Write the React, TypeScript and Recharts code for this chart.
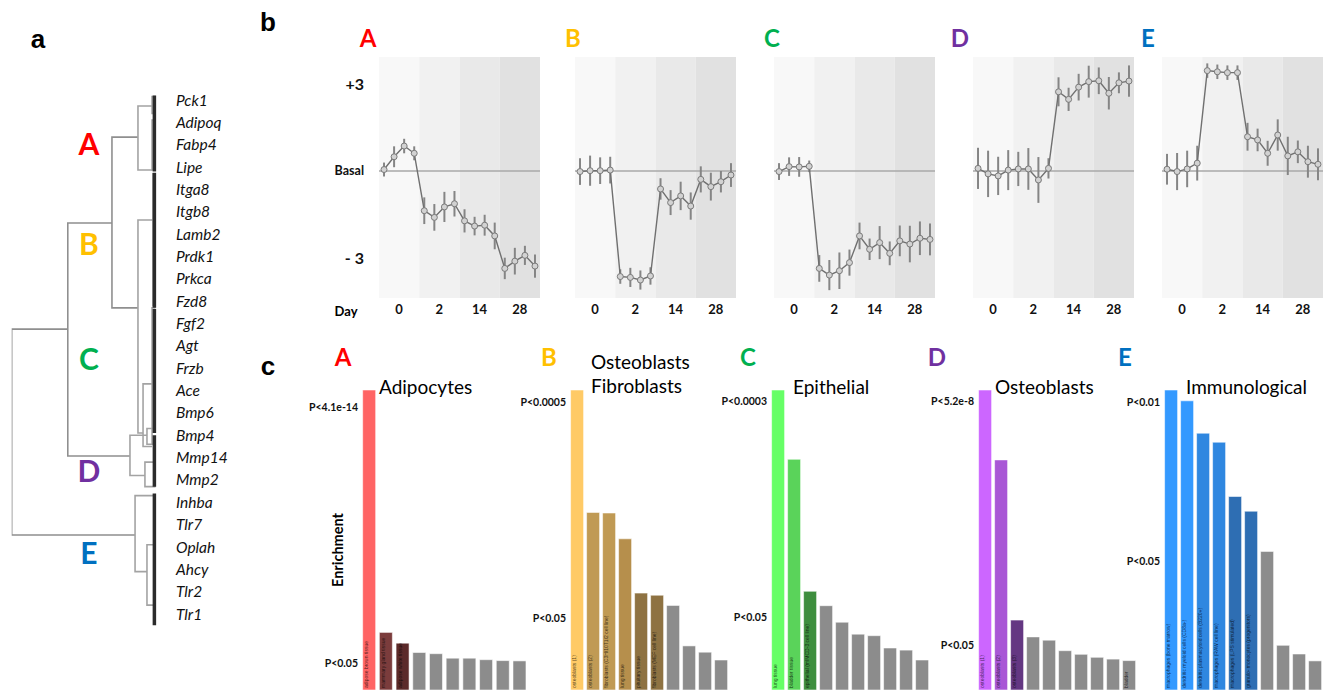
import React from "react";
import {
  ComposedChart,
  LineChart,
  BarChart,
  Line,
  Bar,
  Cell,
  XAxis,
  YAxis,
  ReferenceArea,
  ReferenceLine,
  ErrorBar,
  LabelList,
} from "recharts";

const FONT = "Lato, 'Open Sans', sans-serif";

const clusterNames = ["A", "B", "C", "D", "E"];
const clusterColors = ["#ff0000", "#ffc000", "#00b050", "#7030a0", "#0070c0"];

// ---- a: dendrogram ----
const genes = [
  "Pck1", "Adipoq", "Fabp4", "Lipe", "Itga8", "Itgb8", "Lamb2", "Prdk1",
  "Prkca", "Fzd8", "Fgf2", "Agt", "Frzb", "Ace", "Bmp6", "Bmp4",
  "Mmp14", "Mmp2", "Inhba", "Tlr7", "Oplah", "Ahcy", "Tlr2", "Tlr1",
];
// one U-shaped link per merge (like scipy icoord/dcoord): rows of both branches,
// merge distance and distance of each child
const linkTopRow = [10.25, 5.5, 1.66, 0.27, 5.37, 15.0, 17.7, -0.15, 0.9, 3.3, 9.3, 12.7, 14.7, 16.2, 19.9];
const linkBottomRow = [19.46, 15.93, 9.3, 3.13, 14.9, 16.8, 21.1, 0.6, 3.13, 9.2, 15.4, 15.5, 15.4, 17.3, 22.6];
const linkHeight = [1.0, 0.614, 0.31, 0.131, 0.131, 0.186, 0.151, 0.034, 0.034, 0.028, 0.034, 0.096, 0.069, 0.083, 0.069];
const linkTopChild = [0.614, 0.31, 0.131, 0.034, 0.028, 0.069, 0.014, 0.01, 0.01, 0.01, 0.01, 0.034, 0.01, 0.01, 0.01];
const linkBottomChild = [0.151, 0.186, 0.131, 0.034, 0.096, 0.083, 0.069, 0.01, 0.01, 0.01, 0.01, 0.034, 0.01, 0.01, 0.01];
// dense leaf blocks (hundreds of genes)
const leafBlockTop = [-0.2, 3.25, 9.35, 15.0, 17.6];
const leafBlockBottom = [3.2, 9.3, 14.9, 17.3, 23.5];

// ---- b: expression profiles (4 replicates per day) ----
const dayLabels = ["0", "2", "14", "28"];
const yTickValues = [3, 0, -3];
const yTickLabels = ["+3", "Basal", "- 3"];

const profileA = [0.05, 0.49, 0.86, 0.61, -1.37, -1.6, -1.24, -1.13, -1.72, -1.9, -1.87, -2.24, -3.36, -3.11, -2.91, -3.28];
const errA = [0.24, 0.36, 0.25, 0.24, 0.46, 0.46, 0.52, 0.44, 0.4, 0.32, 0.36, 0.46, 0.37, 0.46, 0.33, 0.4];
const profileB = [-0.02, 0.01, 0.01, 0.03, -3.64, -3.67, -3.76, -3.62, -0.62, -1.09, -0.86, -1.21, -0.29, -0.54, -0.37, -0.14];
const errB = [0.46, 0.52, 0.46, 0.46, 0.25, 0.33, 0.33, 0.3, 0.37, 0.43, 0.49, 0.47, 0.45, 0.48, 0.37, 0.41];
const profileC = [-0.02, 0.15, 0.14, 0.16, -3.36, -3.59, -3.44, -3.16, -2.24, -2.7, -2.47, -2.84, -2.41, -2.52, -2.32, -2.36];
const errC = [0.29, 0.32, 0.34, 0.2, 0.46, 0.52, 0.63, 0.45, 0.46, 0.37, 0.57, 0.41, 0.53, 0.63, 0.58, 0.55];
const profileD = [0.09, -0.1, -0.17, 0.03, 0.07, 0.07, -0.31, 0.09, 2.73, 2.47, 2.89, 3.08, 3.11, 2.68, 3.04, 3.1];
const errD = [0.71, 0.8, 0.66, 0.69, 0.59, 0.72, 0.79, 0.35, 0.5, 0.4, 0.46, 0.55, 0.46, 0.56, 0.36, 0.54];
const profileE = [0.06, -0.02, 0.07, 0.27, 3.46, 3.42, 3.39, 3.39, 1.18, 1.07, 0.61, 1.24, 0.52, 0.66, 0.32, 0.23];
const errE = [0.53, 0.64, 0.63, 0.6, 0.25, 0.25, 0.25, 0.25, 0.48, 0.39, 0.43, 0.54, 0.66, 0.39, 0.55, 0.55];

const profiles = [profileA, profileB, profileC, profileD, profileE];
const profileErrs = [errA, errB, errC, errD, errE];

// ---- c: tissue enrichment ----
const enrA = [100, 19.2, 15.6, 12.5, 12.1, 10.6, 10.6, 10.1, 9.8, 9.7];
const enrB = [100, 59.2, 59, 50.4, 32.3, 31.6, 28.2, 14.7, 12.6, 10];
const enrC = [100, 76.9, 32.9, 28.1, 22.6, 18.6, 18.1, 14, 13.3, 10];
const enrD = [100, 76.7, 23.3, 17.7, 16.6, 13.1, 11.9, 10.9, 10.3, 9.8];
const enrE = [100, 96.4, 85.6, 82.6, 64.5, 59.6, 46.2, 14.9, 12, 9.7];

const tagsA = ["adipose brown tissue", "mammary gland tissue", "adipose white tissue", "", "", "", "", "", "", ""];
const tagsB = ["osteoblasts (1)", "osteoblasts (2)", "fibroblasts (C3H/10T1/2 cell line)", "lung tissue", "pituitary tissue", "fibroblasts (MEF cell line)", "", "", "", ""];
const tagsC = ["lung tissue", "bladder tissue", "epithelial (mIMCD-3 cell line)", "", "", "", "", "", "", ""];
const tagsD = ["osteoblasts (1)", "osteoblasts (2)", "osteoblasts (3)", "", "", "", "", "", "", "bladder"];
const tagsE = ["macrophages (bone marrow)", "dendritic myeloid cells (CD8a-)", "dendritic plasmacytoid cells (B220+)", "macrophages (RAW cell line)", "macrophages (LPS stimulated)", "granulo- monocytes (progenitors)", "", "", "", ""];

const enrichTitles = [["Adipocytes"], ["Osteoblasts", "Fibroblasts"], ["Epithelial"], ["Osteoblasts"], ["Immunological"]];
const pTopLabels = ["P<4.1e-14", "P<0.0005", "P<0.0003", "P<5.2e-8", "P<0.01"];
const pTopLevel = [94.3, 96, 96.3, 96.3, 96];
const pCutLevel = [9, 24, 24.3, 15, 43];

const GRAY = "#8c8c8c";
const barColors = [
  ["#ff6464", "#7b3c3c", "#5c2a2a"],
  ["#ffca66", "#c09a54", "#c09a54", "#b68f4c", "#8e7242", "#8e7242"],
  ["#66ff66", "#5ad35a", "#3e8e3e"],
  ["#cc66ff", "#a957d6", "#643782"],
  ["#3399ff", "#3399ff", "#2f87e0", "#2f87e0", "#2e6eb3", "#2e6eb3"],
];
const enrichments = [enrA, enrB, enrC, enrD, enrE];
const barTags = [tagsA, tagsB, tagsC, tagsD, tagsE];

// layout
const profileLeft = [379, 575, 774, 973, 1162];
const bandFills = ["#f8f8f8", "#f1f1f1", "#e9e9e9", "#e1e1e1"];
const enrichLeft = [361.3, 569, 770, 977.3, 1163.3];
const enrichWidth = [167, 160, 160, 160, 160];

function Txt({ x, y, size, color = "#000", weight = 400, italic = false, anchor = "start", family = FONT, rotate = 0, children }: any) {
  const tx = anchor === "start" ? "0" : anchor === "middle" ? "-50%" : "-100%";
  return (
    <div
      style={{
        position: "absolute",
        left: x,
        top: y,
        fontSize: size,
        lineHeight: 1,
        color,
        fontWeight: weight,
        fontStyle: italic ? "italic" : "normal",
        fontFamily: family,
        whiteSpace: "nowrap",
        transform: `translate(${tx}, -50%)${rotate ? ` rotate(${rotate}deg)` : ""}`,
      }}
    >
      {children}
    </div>
  );
}

function Dendrogram() {
  return (
    <div style={{ position: "absolute", left: 0, top: 0 }}>
      <LineChart width={260} height={691} margin={{ top: 77.65, right: 3, bottom: 43.4, left: 11.7 }}>
        <XAxis type="number" dataKey="d" domain={[0, 1]} reversed hide allowDataOverflow />
        <YAxis
          type="number"
          domain={[-1, 24.5]}
          reversed
          allowDataOverflow
          orientation="right"
          width={100}
          ticks={genes.map((_, i) => i)}
          interval={0}
          tickFormatter={(v) => genes[v]}
          axisLine={false}
          tickLine={false}
          tickSize={0}
          tickMargin={19}
          tick={{ fontSize: 15.5, fontStyle: "italic", fill: "#111", fontFamily: FONT, textAnchor: "start" }}
        />
        {linkHeight.map((h, i) => (
          <Line
            key={`l${i}`}
            data={[
              { d: linkTopChild[i], r: linkTopRow[i] },
              { d: h, r: linkTopRow[i] },
              { d: h, r: linkBottomRow[i] },
              { d: linkBottomChild[i], r: linkBottomRow[i] },
            ]}
            dataKey="r"
            type="linear"
            stroke={i < 3 ? "#8f8f8f" : "#a3a3a3"}
            strokeWidth={1.6}
            dot={false}
            isAnimationActive={false}
          />
        ))}
        {leafBlockTop.map((t, i) => (
          <Line
            key={`b${i}`}
            data={[
              { d: 0.018, r: t },
              { d: 0.018, r: leafBlockBottom[i] },
            ]}
            dataKey="r"
            type="linear"
            stroke="#2b2b2b"
            strokeWidth={3.5}
            dot={false}
            isAnimationActive={false}
          />
        ))}
      </LineChart>
    </div>
  );
}

function ProfileTick(props: any) {
  const { x, y, payload } = props;
  const i = yTickValues.indexOf(payload.value);
  const size = i === 1 ? 12.5 : 16;
  return (
    <text x={x} y={y} textAnchor="end" dominantBaseline="central" fontSize={size} fontWeight={700} fill="#111" fontFamily={FONT}>
      {yTickLabels[i]}
    </text>
  );
}

function ProfileChart({ idx }: { idx: number }) {
  const data = profiles[idx].map((v, i) => ({ t: i + 0.5, v, err: profileErrs[idx][i] }));
  const withAxis = idx === 0;
  const axisW = withAxis ? 70 : 0;
  const reps = profiles[idx].length / dayLabels.length;
  const dayTicks = dayLabels.map((_, g) => g * reps + reps / 2);
  return (
    <div style={{ position: "absolute", left: profileLeft[idx] - axisW, top: 0 }}>
      <ComposedChart width={161 + axisW} height={330} data={data} margin={{ top: 57, right: 0, bottom: 0, left: 0 }}>
        <XAxis
          type="number"
          dataKey="t"
          domain={[0, profiles[idx].length]}
          allowDataOverflow
          ticks={dayTicks}
          interval={0}
          tickFormatter={(v) => dayLabels[dayTicks.indexOf(v)]}
          height={32}
          axisLine={false}
          tickLine={false}
          tickSize={0}
          tickMargin={7}
          tick={{ fontSize: 13, fontWeight: 700, fill: "#111", fontFamily: FONT }}
        />
        <YAxis
          type="number"
          domain={[-4.38, 3.93]}
          allowDataOverflow
          hide={!withAxis}
          width={axisW}
          ticks={yTickValues}
          interval={0}
          axisLine={false}
          tickLine={false}
          tickSize={0}
          tickMargin={15}
          tick={<ProfileTick />}
        />
        {dayLabels.map((_, g) => (
          <ReferenceArea key={g} x1={g * reps} x2={(g + 1) * reps} fill={bandFills[g]} fillOpacity={1} stroke="none" />
        ))}
        <ReferenceLine y={0} stroke="#a8a8a8" strokeWidth={1.6} />
        <Line
          dataKey="v"
          type="linear"
          stroke="#707070"
          strokeWidth={1.4}
          dot={{ r: 3, fill: "#d2d2d2", stroke: "#7a7a7a", strokeWidth: 1 }}
          isAnimationActive={false}
        >
          <ErrorBar dataKey="err" direction="y" width={0} stroke="#858585" strokeWidth={2} isAnimationActive={false} />
        </Line>
      </ComposedChart>
    </div>
  );
}

function BarTag(props: any) {
  const { x, y, width, height, value } = props;
  if (!value) return null;
  return (
    <text
      transform={`translate(${x + 5.8}, ${y + height - 2}) rotate(-90)`}
      fontSize={5}
      fill="rgba(0,0,0,0.7)"
      fontFamily="'Liberation Sans', sans-serif"
    >
      {value}
    </text>
  );
}

function EnrichChart({ idx }: { idx: number }) {
  const data = enrichments[idx].map((v, i) => ({ i, v, tag: barTags[idx][i] }));
  const axisW = 70;
  const pTicks = [pTopLevel[idx], pCutLevel[idx]];
  const pLabels = [pTopLabels[idx], "P<0.05"];
  return (
    <div style={{ position: "absolute", left: enrichLeft[idx] - axisW, top: 390 }}>
      <BarChart width={enrichWidth[idx] + axisW} height={300} data={data} margin={{ top: 0, right: 0, bottom: 0, left: 0 }} barCategoryGap="10%">
        <XAxis dataKey="i" hide />
        <YAxis
          type="number"
          domain={[0, 100]}
          allowDataOverflow
          width={axisW}
          ticks={pTicks}
          interval={0}
          axisLine={false}
          tickLine={false}
          tickSize={0}
          tickMargin={3}
          tick={(p: any) => (
            <text x={p.x} y={p.y} textAnchor="end" dominantBaseline="central" fontSize={10.5} fontWeight={700} fill="#111" fontFamily={FONT}>
              {pLabels[pTicks.indexOf(p.payload.value)]}
            </text>
          )}
        />
        <Bar dataKey="v" isAnimationActive={false} stroke="rgba(255,255,255,0.55)" strokeWidth={1}>
          {data.map((_, i) => (
            <Cell key={i} fill={barColors[idx][i] || GRAY} />
          ))}
          <LabelList dataKey="tag" content={BarTag} />
        </Bar>
      </BarChart>
    </div>
  );
}

export default function App() {
  const dendroLetterY = [143, 243, 358, 470, 552];
  const profileLetterX = [368, 573, 772, 960, 1148];
  const enrichLetterX = [343, 549, 748, 937, 1125];
  const titleX = [379, 591, 793, 995, 1186];
  return (
    <div
      style={{
        position: "absolute",
        left: 0,
        top: 0,
        width: 1326,
        height: 691,
        overflow: "hidden",
        background: "#fff",
        fontFamily: FONT,
      }}
    >
      <Dendrogram />
      {clusterNames.map((n, i) => (
        <Txt key={n} x={89} y={dendroLetterY[i]} size={30} weight={700} color={clusterColors[i]} anchor="middle">
          {n}
        </Txt>
      ))}

      {profiles.map((_, i) => (
        <ProfileChart key={i} idx={i} />
      ))}
      {clusterNames.map((n, i) => (
        <Txt key={`pb${n}`} x={profileLetterX[i]} y={38} size={24} weight={700} color={clusterColors[i]} anchor="middle">
          {n}
        </Txt>
      ))}
      <Txt x={346} y={311} size={13} weight={700} anchor="middle">
        Day
      </Txt>

      {enrichments.map((_, i) => (
        <EnrichChart key={i} idx={i} />
      ))}
      {clusterNames.map((n, i) => (
        <Txt key={`pc${n}`} x={enrichLetterX[i]} y={357} size={24} weight={700} color={clusterColors[i]} anchor="middle">
          {n}
        </Txt>
      ))}
      {enrichTitles.map((lines, i) =>
        lines.map((t, j) => (
          <Txt key={`t${i}${j}`} x={titleX[i]} y={lines.length > 1 ? 361 + j * 24 : 386} size={19}>
            {t}
          </Txt>
        ))
      )}
      <Txt x={338} y={550} size={14.5} weight={700} anchor="middle" rotate={-90}>
        Enrichment
      </Txt>

      <Txt x={38} y={39} size={26} weight={700} family="'Liberation Sans', Arial, sans-serif" anchor="middle">
        a
      </Txt>
      <Txt x={268} y={22} size={26} weight={700} family="'Liberation Sans', Arial, sans-serif" anchor="middle">
        b
      </Txt>
      <Txt x={268} y={366} size={26} weight={700} family="'Liberation Sans', Arial, sans-serif" anchor="middle">
        c
      </Txt>
    </div>
  );
}
